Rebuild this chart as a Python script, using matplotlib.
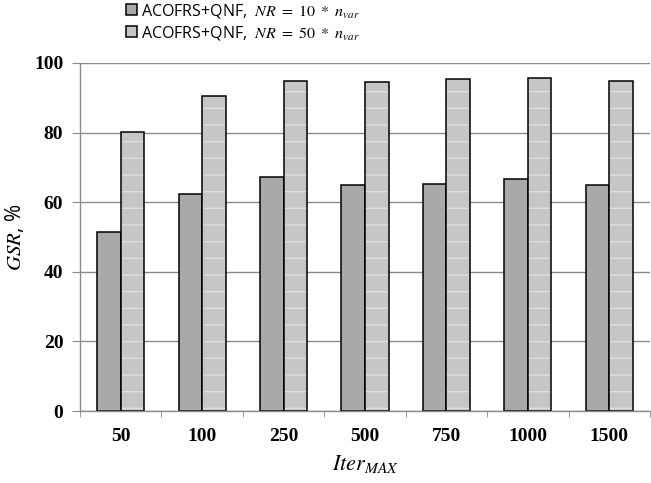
import matplotlib.pyplot as plt
import numpy as np
from matplotlib.ticker import FixedLocator

plt.rcParams['mathtext.fontset'] = 'stix'
plt.rcParams['hatch.linewidth'] = 1.0

iters = ['50', '100', '250', '500', '750', '1000', '1500']
gsr_nr10 = [51.3, 62.5, 67.1, 64.8, 65.2, 66.7, 64.8]
gsr_nr50 = [80.2, 90.5, 94.8, 94.5, 95.5, 95.7, 94.8]
labels = ['ACOFRS+QNF,  $NR\\ =\\ 10\\ *\\ n_{var}$',
          'ACOFRS+QNF,  $NR\\ =\\ 50\\ *\\ n_{var}$']

fig = plt.figure(figsize=(6.51, 4.83), dpi=100)
ax = fig.add_axes([0.1229, 0.149, 0.8756, 0.7206])

x = np.arange(len(iters))
w = 0.29
b1 = ax.bar(x - w / 2, gsr_nr10, w, color='#a9a9a9', edgecolor='black', linewidth=1.1)
# light stripes inside the second series, then the black outline on top
ax.bar(x + w / 2, gsr_nr50, w, color='#c6c6c6', edgecolor='#dddddd', linewidth=0,
       hatch='-')
ax.bar(x + w / 2, gsr_nr50, w, fill=False, edgecolor='black', linewidth=1.1)
lg2 = plt.Rectangle((0, 0), 1, 1, facecolor='#c6c6c6', edgecolor='black', linewidth=1.1)

ax.set_xlim(-0.5, len(iters) - 0.5)
ax.set_ylim(0, 100)
ax.set_yticks([0, 20, 40, 60, 80, 100])
ax.yaxis.grid(True, color='#8a8a8a', linewidth=1.0)
ax.set_axisbelow(True)

ax.set_xticks(x)
ax.set_xticklabels(iters)
ax.xaxis.set_minor_locator(FixedLocator(np.arange(-0.5, len(iters), 1.0)))
ax.tick_params(axis='x', which='major', length=0, pad=12)
ax.tick_params(axis='x', which='minor', length=4, color='#8a8a8a', direction='out')
ax.tick_params(axis='y', length=6, color='#8a8a8a', direction='out', pad=6)
for lab in ax.get_xticklabels() + ax.get_yticklabels():
    lab.set_fontfamily('Liberation Serif')
    lab.set_fontweight('bold')
    lab.set_fontsize(14)

for s in ['top', 'right']:
    ax.spines[s].set_visible(False)
for s in ['left', 'bottom']:
    ax.spines[s].set_color('#8a8a8a')
    ax.spines[s].set_linewidth(1.0)

ax.set_ylabel('$GSR$, %', fontsize=15, family='Open Sans', labelpad=6)
ax.set_xlabel('$Iter_{MAX}$', fontsize=16, labelpad=6)

leg = fig.legend(handles=[b1, lg2], labels=labels,
                 loc='upper left', bbox_to_anchor=(0.183, 1.01),
                 frameon=False, fontsize=11.5, handlelength=0.7, handleheight=0.7,
                 handletextpad=0.25, labelspacing=0.25, borderaxespad=0)
for t in leg.get_texts():
    t.set_fontfamily('Open Sans')

fig.savefig('out.png', dpi=100)
